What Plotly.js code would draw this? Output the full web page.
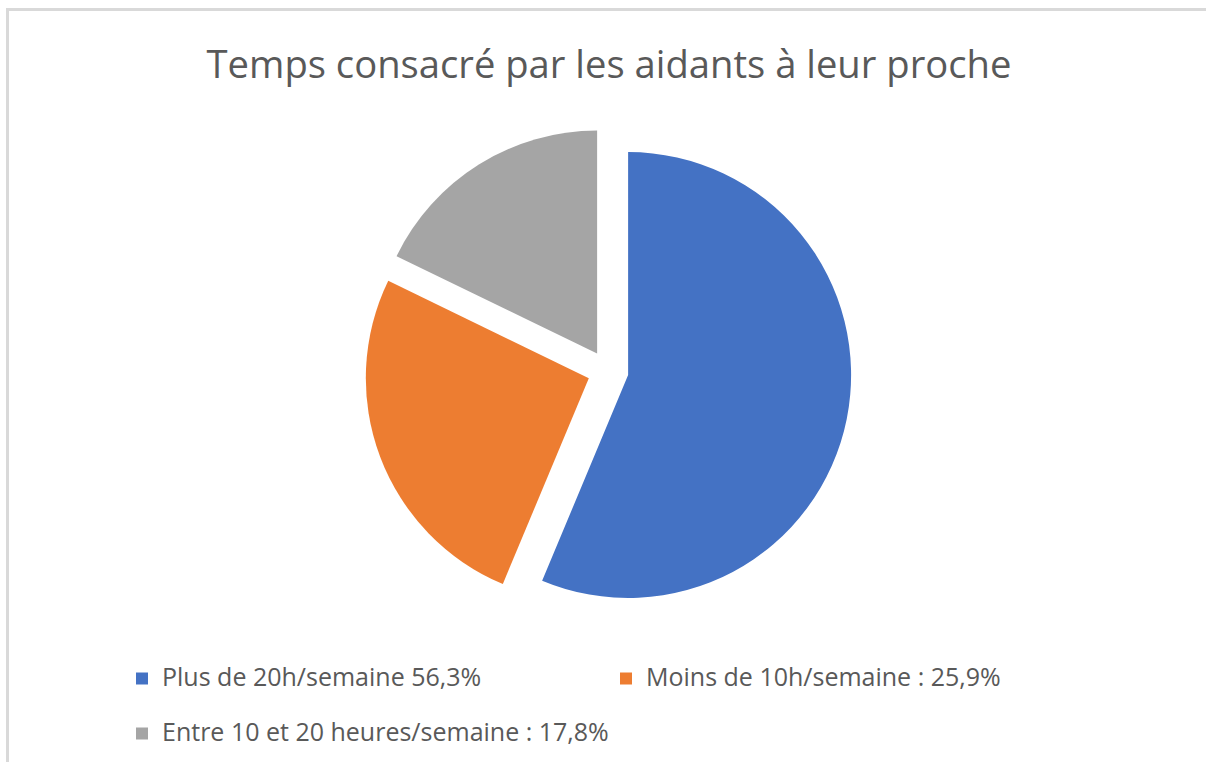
<!DOCTYPE html>
<html>
<head>
<meta charset="utf-8">
<script src="https://cdn.plot.ly/plotly-3.0.1.min.js"></script>
<style>html,body{margin:0;padding:0;background:#fff;}#chart{width:1206px;height:762px;}</style>
</head>
<body>
<div id="chart"></div>
<script>
const categories = [
  "Plus de 20h/semaine 56,3%",
  "Moins de 10h/semaine : 25,9%",
  "Entre 10 et 20 heures/semaine : 17,8%"
];
const values = [56.3, 25.9, 17.8];
const colors = ["#4472C4", "#ED7D31", "#A5A5A5"];
const chartTitle = "Temps consacré par les aidants à leur proche";

const W = 1206, H = 762;
const cx = 608, cy = 371, side = 487;

const legendLabels = categories.map(c => '<span style="font-size:25px">' + c + '</span><br> ');

const trace = {
  type: 'pie',
  labels: legendLabels,
  values: values,
  sort: false,
  direction: 'clockwise',
  rotation: 0,
  pull: 0.092,
  textinfo: 'none',
  hoverinfo: 'value',
  marker: {colors: colors, line: {width: 0}},
  domain: {
    x: [(cx - side / 2) / W, (cx + side / 2) / W],
    y: [1 - (cy + side / 2) / H, 1 - (cy - side / 2) / H]
  }
};

const layout = {
  width: W, height: H,
  margin: {l: 0, r: 0, t: 0, b: 0, autoexpand: false},
  paper_bgcolor: '#ffffff',
  plot_bgcolor: '#ffffff',
  font: {family: '"Open Sans", sans-serif', color: '#595959'},
  title: {
    text: chartTitle,
    font: {family: '"Open Sans", sans-serif', size: 38.2, color: '#595959'},
    x: 609 / W, xanchor: 'center',
    y: 1 - 65 / H, yanchor: 'middle', yref: 'container'
  },
  showlegend: true,
  legend: {
    orientation: 'h',
    x: 122 / W, xanchor: 'left',
    y: 1 - 659 / H, yanchor: 'top',
    valign: 'top',
    entrywidth: 439,
    entrywidthmode: 'pixels',
    font: {family: '"Open Sans", sans-serif', size: 20, color: '#595959'},
    bgcolor: 'rgba(0,0,0,0)'
  },
  shapes: [
    {type: 'line', xref: 'paper', yref: 'paper', x0: 7.5 / W, x1: 7.5 / W, y0: 0, y1: 1 - 9.5 / H,
     line: {color: '#d9d9d9', width: 3}},
    {type: 'line', xref: 'paper', yref: 'paper', x0: 6 / W, x1: 1, y0: 1 - 9.5 / H, y1: 1 - 9.5 / H,
     line: {color: '#d9d9d9', width: 3}}
  ]
};

Plotly.newPlot('chart', [trace], layout, {displayModeBar: false, staticPlot: true});
</script>
</body>
</html>
